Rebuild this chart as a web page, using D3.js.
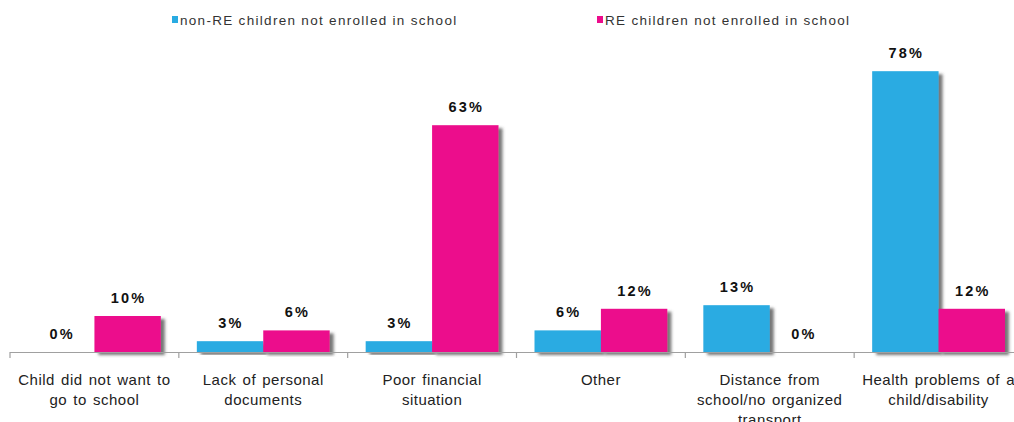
<!DOCTYPE html>
<html>
<head>
<meta charset="utf-8">
<script src="https://cdn.jsdelivr.net/npm/d3@7"></script>
<style>
  html, body { margin: 0; padding: 0; background: #fff; }
  svg { display: block; font-family: "Liberation Sans", Arial, sans-serif; }
</style>
</head>
<body>
<svg id="chart" width="1014" height="422"></svg>
<script>
// Reasons for children not being enrolled in school (%)
const categories = [
  "Child did not want to go to school",
  "Lack of personal documents",
  "Poor financial situation",
  "Other",
  "Distance from school/no organized transport",
  "Health problems of a child/disability"
];
const seriesNames = [
  "non-RE children not enrolled in school",
  "RE children not enrolled in school"
];
const nonREValues = [0, 3, 3, 6, 13, 78];
const reValues = [10, 6, 63, 12, 0, 12];
const seriesColors = ["#29abe2", "#ec0c8c"];

const svg = d3.select("#chart");
const baseY = 352;

const x0 = d3.scaleBand().domain(categories).range([10, 1023]).padding(0);
const x1 = d3.scaleBand().domain(seriesNames)
  .range([18, x0.bandwidth() - 18]).padding(0);
const y = d3.scaleLinear().domain([0, 100]).range([baseY, -8]);

// soft drop shadow under the bars
const defs = svg.append("defs");
const f = defs.append("filter").attr("id", "shadow")
  .attr("x", "-20%").attr("y", "-20%").attr("width", "150%").attr("height", "140%");
f.append("feDropShadow").attr("dx", 4).attr("dy", 3).attr("stdDeviation", 1.6)
  .attr("flood-color", "#4a4a4a").attr("flood-opacity", 0.75);

const seriesData = [nonREValues, reValues];

seriesData.forEach((vals, si) => {
  svg.append("g").selectAll("rect")
    .data(vals)
    .join("rect")
    .attr("x", (d, i) => x0(categories[i]) + x1(seriesNames[si]))
    .attr("width", x1.bandwidth())
    .attr("y", d => y(d))
    .attr("height", d => baseY - y(d))
    .attr("fill", seriesColors[si])
    .attr("filter", d => d > 0 ? "url(#shadow)" : null);
});

// value labels
seriesData.forEach((vals, si) => {
  svg.append("g").selectAll("text")
    .data(vals)
    .join("text")
    .attr("x", (d, i) => x0(categories[i]) + x1(seriesNames[si]) + x1.bandwidth() / 2 + 1)
    .attr("y", d => y(d) - 13)
    .attr("text-anchor", "middle")
    .attr("font-size", 14.5)
    .attr("font-weight", "bold")
    .attr("letter-spacing", 2.2)
    .attr("fill", "#111")
    .text(d => d + "%");
});

// category axis
const xAxis = d3.axisBottom(x0).tickSize(0).tickFormat("");
const axisG = svg.append("g").attr("transform", `translate(0,${baseY})`).call(xAxis);
axisG.select(".domain").attr("stroke", "#a0a0a0").attr("stroke-width", 1.2)
  .attr("d", `M10,0.5H1023`);
axisG.selectAll(".boundary")
  .data(d3.range(categories.length + 1))
  .join("line")
  .attr("x1", i => 10 + i * x0.bandwidth())
  .attr("x2", i => 10 + i * x0.bandwidth())
  .attr("y1", 0).attr("y2", 6)
  .attr("stroke", "#a0a0a0").attr("stroke-width", 1.2);

// wrapped category labels
const labelG = svg.append("g");
categories.forEach(c => {
  const cx = x0(c) + x0.bandwidth() / 2;
  const t = labelG.append("text")
    .attr("x", cx)
    .attr("y", 385)
    .attr("text-anchor", "middle")
    .attr("font-size", 15)
    .attr("letter-spacing", 0.5)
    .attr("word-spacing", 1.5)
    .attr("fill", "#222");
  const words = c.split(" ");
  let line = [];
  let tspan = t.append("tspan").attr("x", cx).attr("dy", 0);
  words.forEach(w => {
    line.push(w);
    tspan.text(line.join(" "));
    if (tspan.node().getComputedTextLength() > 160 && line.length > 1) {
      line.pop();
      tspan.text(line.join(" "));
      line = [w];
      tspan = t.append("tspan").attr("x", cx).attr("dy", 20).text(w);
    }
  });
});

// legend
const legendX = [172, 597];
const legend = svg.append("g");
seriesNames.forEach((s, i) => {
  legend.append("rect")
    .attr("x", legendX[i]).attr("y", 16)
    .attr("width", 6).attr("height", 7)
    .attr("fill", seriesColors[i]);
  legend.append("text")
    .attr("x", legendX[i] + 8).attr("y", 25)
    .attr("font-size", 13.5)
    .attr("letter-spacing", 1.3)
    .attr("fill", "#333")
    .text(s);
});
</script>
</body>
</html>
